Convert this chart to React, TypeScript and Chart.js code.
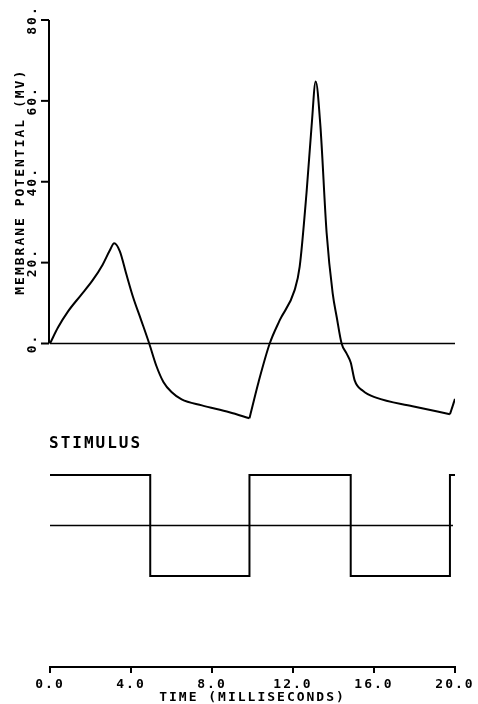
import React, { useEffect, useRef } from "react";
import { Chart, registerables } from "chart.js";

Chart.register(...registerables);

// Membrane potential trace (time in ms, potential in mV)
const TIME = [
  0, 0.4, 0.9, 1.5, 2.1, 2.6, 2.95, 3.17, 3.45, 3.75, 4.1, 4.5, 4.9,
  5.25, 5.6, 6.0, 6.5, 7.5, 8.86, 9.85,
  10.3, 10.85, 11.34, 12.08, 12.33, 12.67, 12.92, 13.12, 13.35, 13.66, 13.96,
  14.16, 14.4, 14.65, 14.85, 15.05, 15.45, 16.1, 17.9, 19.75, 20,
];
const VOLTAGE = [
  0, 4, 8, 11.8, 15.6, 19.5, 23, 24.8, 22.8, 17.5, 11.5, 5.8, 0,
  -5.5, -9.5, -12, -13.8, -15.3, -17, -18.5,
  -9.5, 0, 5.7, 13.2, 19, 37.4, 53.9, 64.8, 54, 27.4, 12.4,
  6.5, 0, -2.5, -4.7, -9.2, -11.7, -13.4, -15.5, -17.5, -13.7,
];
// indices where the trace has a sharp corner (stimulus switches on)
const BREAKS = [0, 19, 39, 40];

// Stimulus (arbitrary units: +1 on, -1 off)
const STIM_TIME = [0, 4.95, 4.95, 9.85, 9.85, 14.85, 14.85, 19.75, 19.75, 20];
const STIM_VALUE = [1, 1, -1, -1, 1, 1, -1, -1, 1, 1];

const X_TICKS = [0, 4, 8, 12, 16, 20];
const Y_TICKS = [0, 20, 40, 60, 80];
const Y_TITLE = "MEMBRANE POTENTIAL (MV)";
const X_TITLE = "TIME (MILLISECONDS)";
const STIM_TITLE = "STIMULUS";

const FONT = "'DejaVu Sans Mono', monospace";
const INK = "#000";

const axisPlugin = {
  id: "customYAxis",
  beforeDraw(chart: any) {
    chart.ctx.letterSpacing = "2px";
  },
  afterDraw(chart: any) {
    const ctx = chart.ctx;
    const y = chart.scales.y;
    const y2 = chart.scales.y2;
    const x = chart.scales.x;
    const x0 = x.getPixelForValue(0) - 1;
    ctx.save();
    ctx.strokeStyle = INK;
    ctx.lineWidth = 2;
    ctx.beginPath();
    ctx.moveTo(x0, y.getPixelForValue(0));
    ctx.lineTo(x0, y.getPixelForValue(80));
    ctx.stroke();
    Y_TICKS.forEach((v) => {
      const py = y.getPixelForValue(v);
      ctx.beginPath();
      ctx.moveTo(x0 - 8, py);
      ctx.lineTo(x0, py);
      ctx.stroke();
    });
    ctx.fillStyle = INK;
    ctx.font = `bold 13px ${FONT}`;
    ctx.letterSpacing = "2px";
    ctx.textAlign = "center";
    ctx.textBaseline = "middle";
    Y_TICKS.forEach((v) => {
      const py = y.getPixelForValue(v);
      ctx.save();
      ctx.translate(x0 - 16, py);
      ctx.rotate(-Math.PI / 2);
      ctx.fillText(v.toFixed(0) + ".", 0, 0);
      ctx.restore();
    });
    ctx.save();
    ctx.translate(x0 - 28, y.getPixelForValue(40));
    ctx.rotate(-Math.PI / 2);
    ctx.fillText(Y_TITLE, 0, 0);
    ctx.restore();

    ctx.font = `bold 16px ${FONT}`;
    ctx.textAlign = "left";
    ctx.letterSpacing = "2px";
    ctx.fillText(STIM_TITLE, x0, y2.getPixelForValue(1) - 31);
    ctx.restore();
  },
};

export default function App() {
  const ref = useRef<HTMLCanvasElement | null>(null);

  useEffect(() => {
    if (!ref.current) return;
    const line = { borderColor: INK, pointRadius: 0, tension: 0, fill: false };
    const traceSegments = BREAKS.slice(0, -1).map((start, k) => ({
      ...line,
      label: "Membrane potential " + (k + 1),
      data: TIME.slice(start, BREAKS[k + 1] + 1).map((t, i) => ({ x: t, y: VOLTAGE[start + i] })),
      yAxisID: "y",
      borderWidth: 2,
      cubicInterpolationMode: "monotone",
    }));
    const chart = new Chart(ref.current, {
      type: "line",
      data: {
        datasets: [
          ...traceSegments,
          {
            ...line,
            label: "Zero",
            data: [
              { x: 0, y: 0 },
              { x: 20, y: 0 },
            ],
            yAxisID: "y",
            borderWidth: 1.6,
          },
          {
            ...line,
            label: "Stimulus",
            data: STIM_TIME.map((t, i) => ({ x: t, y: STIM_VALUE[i] })),
            yAxisID: "y2",
            borderWidth: 2,
          },
          {
            ...line,
            label: "Stimulus zero",
            data: [
              { x: 0, y: 0 },
              { x: 19.9, y: 0 },
            ],
            yAxisID: "y2",
            borderWidth: 1.6,
          },
        ],
      },
      options: {
        animation: false,
        responsive: false,
        maintainAspectRatio: false,
        layout: { padding: { top: 20, left: 50, right: 23, bottom: 0 } },
        plugins: { legend: { display: false }, tooltip: { enabled: false } },
        scales: {
          x: {
            type: "linear",
            position: "bottom",
            min: 0,
            max: 20,
            afterBuildTicks: (axis: any) => {
              axis.ticks = X_TICKS.map((v) => ({ value: v }));
            },
            afterFit: (s: any) => {
              s.height = 37;
            },
            ticks: {
              autoSkip: false,
              maxRotation: 0,
              minRotation: 0,
              padding: 5,
              color: INK,
              font: { family: FONT, size: 13, weight: "bold", lineHeight: 1 },
              callback: (v: any) => Number(v).toFixed(1),
            },
            grid: {
              drawOnChartArea: false,
              drawTicks: true,
              tickLength: 6,
              color: INK,
              lineWidth: 2,
            },
            border: { display: true, color: INK, width: 2 },
            title: {
              display: true,
              text: X_TITLE,
              color: INK,
              font: { family: FONT, size: 13, weight: "bold", lineHeight: 1 },
              padding: { top: 0, bottom: 0 },
            },
          },
          y: { type: "linear", display: false, min: -80, max: 80 },
          y2: { type: "linear", display: false, min: -2.8, max: 10 },
        },
      } as any,
      plugins: [axisPlugin],
    });
    return () => chart.destroy();
  }, []);

  return (
    <div style={{ position: "fixed", left: 0, top: 0, width: 478, height: 704, background: "#fff" }}>
      <canvas ref={ref} width={478} height={704} style={{ display: "block" }} />
    </div>
  );
}
